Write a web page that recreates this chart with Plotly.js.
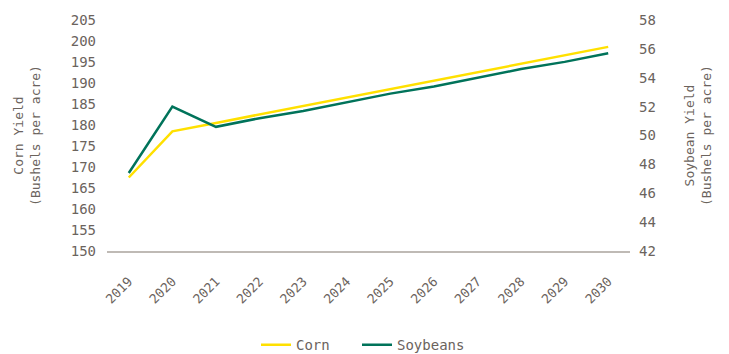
<!DOCTYPE html>
<html><head><meta charset="utf-8">
<script src="https://cdn.plot.ly/plotly-3.0.1.min.js"></script>
<style>body{margin:0;background:#fff}#c{width:729px;height:354px}</style>
</head><body><div id="c"></div>
<script>
const years = ['2019','2020','2021','2022','2023','2024','2025','2026','2027','2028','2029','2030'];
const corn = [167.5, 178.5, 180.5, 182.5, 184.5, 186.5, 188.6, 190.6, 192.6, 194.6, 196.6, 198.6];
const soybeans = [47.4, 52.0, 50.6, 51.2, 51.7, 52.3, 52.9, 53.4, 54.0, 54.6, 55.1, 55.7];
const txt = '#6b635d';
const fontFam = '"DejaVu Sans Mono", "Liberation Mono", monospace';
const legBase = {orientation: 'h', xref: 'container', xanchor: 'left', y: 0.025, yref: 'container', yanchor: 'middle', font: {size: 14, color: txt}};
Plotly.newPlot('c', [
  {x: years, y: corn, name: 'Corn', type: 'scatter', mode: 'lines', line: {color: '#FFE000', width: 2.5}, yaxis: 'y', legend: 'legend'},
  {x: years, y: soybeans, name: 'Soybeans', type: 'scatter', mode: 'lines', line: {color: '#00735A', width: 2.5}, yaxis: 'y2', legend: 'legend2'}
], {
  width: 729, height: 354,
  margin: {l: 107, r: 99, t: 20, b: 103},
  paper_bgcolor: '#fff', plot_bgcolor: '#fff',
  font: {family: fontFam, color: txt, size: 13},
  showlegend: true,
  legend: Object.assign({}, legBase, {x: 256/729}),
  legend2: Object.assign({}, legBase, {x: 357/729}),
  xaxis: {type: 'category', range: [-0.5, 11.5], tickangle: -45, showgrid: false, showline: true, linecolor: '#bfbab5', linewidth: 1.5, ticks: '', tickfont: {size: 13}, zeroline: false, automargin: false, ticklabelstandoff: 16},
  yaxis: {range: [150, 205], dtick: 5, showgrid: false, showline: false, zeroline: false, ticks: '', automargin: false, ticklabelstandoff: 10,
    tickfont: {size: 14}, title: {text: 'Corn Yield<br>(Bushels per acre)', font: {size: 13}, standoff: 27}},
  yaxis2: {range: [42, 58], dtick: 2, overlaying: 'y', side: 'right', showgrid: false, showline: false, zeroline: false, ticks: '', automargin: false, ticklabelstandoff: 8,
    tickfont: {size: 14}, title: {text: 'Soybean Yield<br>(Bushels per acre)', font: {size: 13}, standoff: 30}}
}, {displayModeBar: false});
</script></body></html>
